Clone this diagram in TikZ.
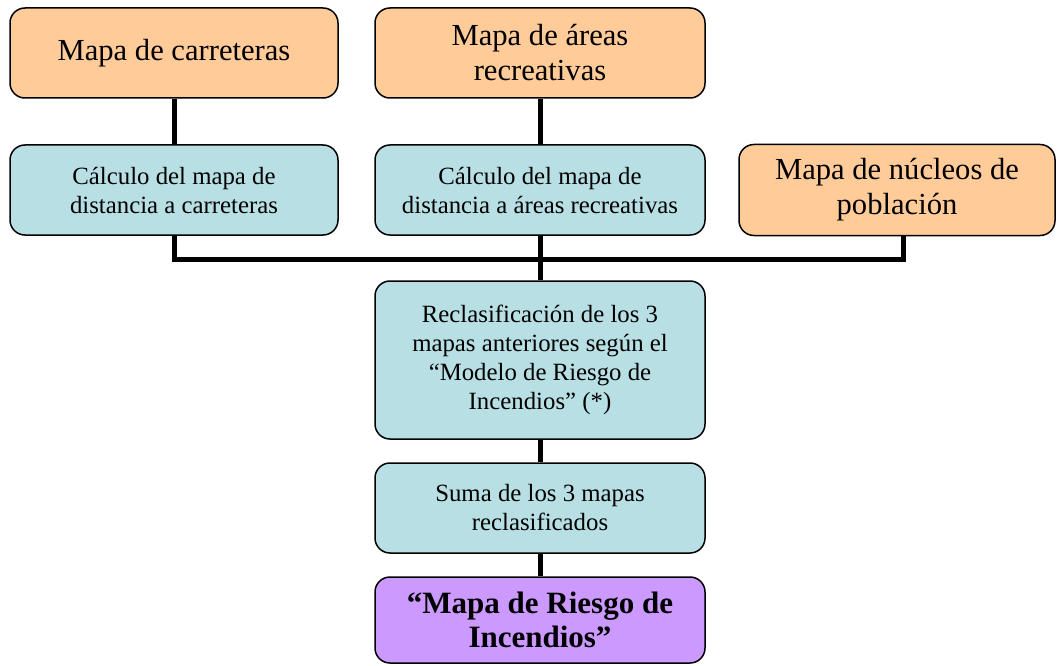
\documentclass[tikz,border=0pt]{standalone}
\usepackage{fontspec}
\setmainfont{Liberation Serif}
\definecolor{orangebox}{HTML}{FFCC99}
\definecolor{tealbox}{HTML}{B8E0E4}
\definecolor{purplebox}{HTML}{CC99FF}
\begin{document}
\begin{tikzpicture}[x=1pt,y=-1pt,
  box/.style={draw=black,line width=1.5pt,rounded corners=15pt,align=center,inner sep=0pt},
  srcbox/.style={box,fill=orangebox,font=\fontsize{30.6}{35}\selectfont},
  procbox/.style={box,fill=tealbox,font=\fontsize{24.8}{29}\selectfont},
  resbox/.style={box,fill=purplebox,font=\bfseries\fontsize{31}{34}\selectfont},
  conn/.style={line width=5pt,black}]
\useasboundingbox (0,0) rectangle (1058,666);
\node[srcbox,minimum width=328pt,minimum height=90pt] (b1) at (174,53) {Mapa de carreteras};
\node[srcbox,minimum width=330pt,minimum height=90pt] (b2) at (540,53) {Mapa de áreas\\recreativas};
\node[procbox,minimum width=328pt,minimum height=90pt] (b3) at (174,190) {Cálculo del mapa de\\distancia a carreteras};
\node[procbox,minimum width=330pt,minimum height=90pt] (b4) at (540,190) {Cálculo del mapa de\\distancia a áreas recreativas};
\node[srcbox,minimum width=316pt,minimum height=91pt] (b5) at (897,190) {Mapa de núcleos de\\población};
\node[procbox,minimum width=330pt,minimum height=158pt] (b6) at (540,360) {Reclasificación de los 3\\mapas anteriores según el\\“Modelo de Riesgo de\\Incendios” (*)};
\node[procbox,minimum width=330pt,minimum height=90pt] (b7) at (540,508) {Suma de los 3 mapas\\reclasificados};
\node[resbox,minimum width=330pt,minimum height=86pt] (b8) at (540,620) {“Mapa de Riesgo de\\Incendios”};
\coordinate (bus) at (540,259);
\coordinate (b5drop) at ([xshift=6pt]b5.south);
\draw[conn] (b1.south) -- (b3.north);
\draw[conn] (b2.south) -- (b4.north);
\draw[conn] (b3.south) |- (bus) -| (b5drop);
\draw[conn] (b4.south) -- (b6.north);
\draw[conn] (b6.south) -- (b7.north);
\draw[conn] (b7.south) -- (b8.north);
\end{tikzpicture}
\end{document}
